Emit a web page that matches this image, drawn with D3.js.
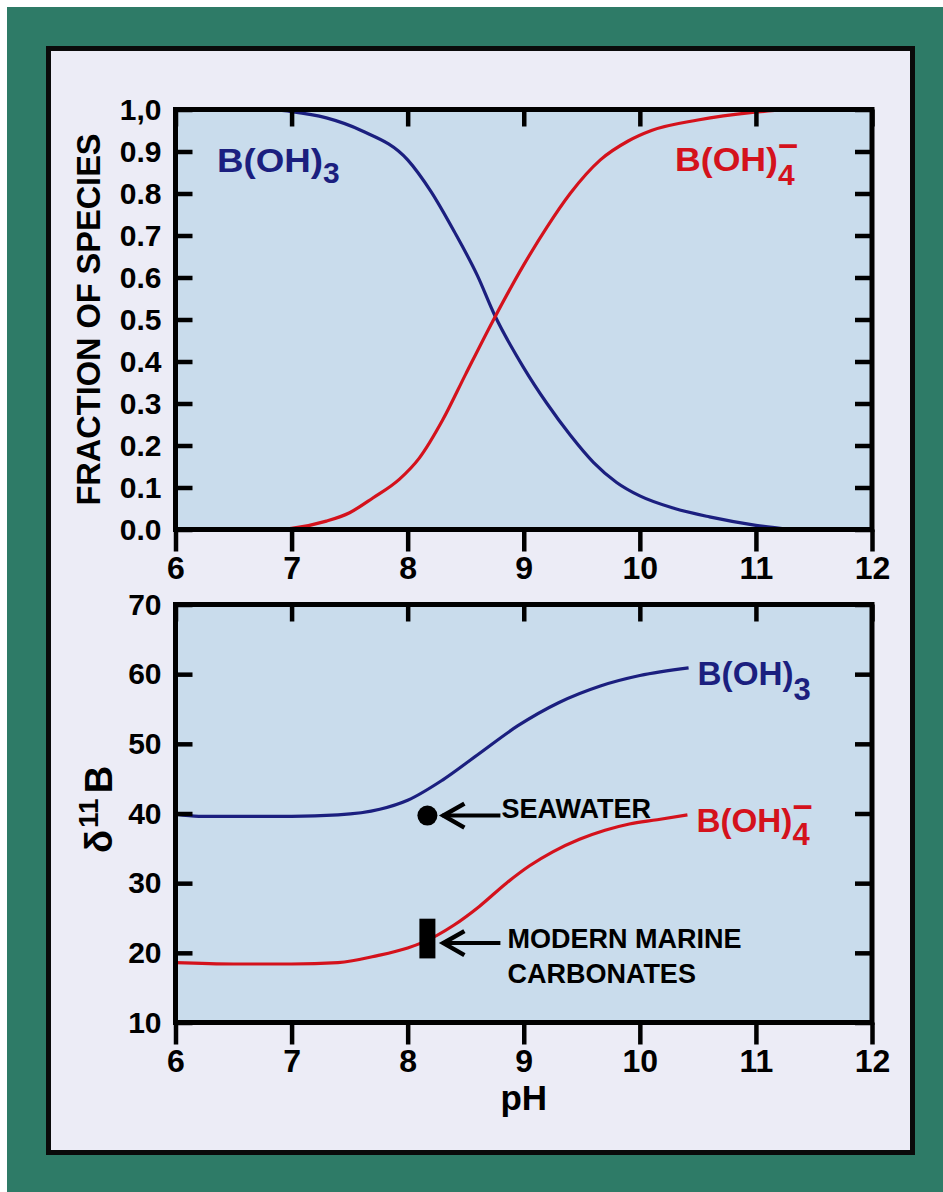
<!DOCTYPE html>
<html>
<head>
<meta charset="utf-8">
<script src="https://cdn.jsdelivr.net/npm/d3@7"></script>
<style>
  body { margin: 0; background: #2e7b67; }
  svg { display: block; }
  text { font-family: "Liberation Sans", Arial, sans-serif; font-weight: bold; }
</style>
</head>
<body>
<svg id="chart" width="943" height="1192"></svg>
<script>
// ---- data ----
const phTicks = [6, 7, 8, 9, 10, 11, 12];
const phLabels = ["6", "7", "8", "9", "10", "11", "12"];
const fracTicks = [0, 0.1, 0.2, 0.3, 0.4, 0.5, 0.6, 0.7, 0.8, 0.9, 1.0];
const fracLabels = ["0.0", "0.1", "0.2", "0.3", "0.4", "0.5", "0.6", "0.7", "0.8", "0.9", "1,0"];
const deltaTicks = [10, 20, 30, 40, 50, 60, 70];
const deltaLabels = ["10", "20", "30", "40", "50", "60", "70"];

// fraction of species, B(OH)3
const fracAcidPh  = [6.8, 7.0, 7.3, 7.6, 8.0, 8.2, 8.4, 8.6, 8.75, 9.0, 9.2, 9.4, 9.6, 9.8, 10.0, 10.3, 10.6, 11.0, 11.3];
const fracAcidVal = [1.0, 0.995, 0.98, 0.95, 0.88, 0.805, 0.71, 0.605, 0.51, 0.385, 0.3, 0.225, 0.16, 0.112, 0.08, 0.05, 0.03, 0.01, 0.0];
// fraction of species, B(OH)4-
const fracBasePh  = [6.8, 7.0, 7.3, 7.5, 7.7, 7.93, 8.1, 8.3, 8.5, 8.75, 9.0, 9.2, 9.4, 9.66, 9.9, 10.1, 10.5, 10.97, 11.3];
const fracBaseVal = [0.0, 0.003, 0.02, 0.04, 0.075, 0.12, 0.17, 0.26, 0.37, 0.505, 0.63, 0.72, 0.8, 0.88, 0.925, 0.95, 0.975, 0.993, 1.0];

// d11B, B(OH)3
const dAcidPh  = [6.0, 6.2, 7.0, 7.4, 7.76, 8.0, 8.3, 8.6, 8.95, 9.3, 9.66, 10.0, 10.42];
const dAcidVal = [39.9, 39.6, 39.6, 39.8, 40.6, 41.9, 44.8, 48.4, 52.6, 55.9, 58.3, 59.8, 60.9];
// d11B, B(OH)4-
const dBasePh  = [6.0, 6.5, 7.0, 7.4, 7.74, 8.0, 8.13, 8.4, 8.62, 8.85, 9.05, 9.25, 9.48, 9.7, 9.91, 10.15, 10.41];
const dBaseVal = [18.6, 18.4, 18.4, 18.6, 19.6, 20.7, 21.5, 24.0, 26.7, 30.0, 32.5, 34.5, 36.3, 37.6, 38.5, 39.1, 39.8];

// markers
const seawater = [8.17, 39.7];
const carbonates = [8.17, 19.2, 24.9];
const carbArrowY = 21.4;

const navy = "#1b1f7f";
const red = "#d4121c";

const svg = d3.select("#chart");
const W = 943, H = 1192;

// background + frame
svg.append("rect").attr("width", W).attr("height", H).attr("fill", "#2e7b67");
svg.append("rect").attr("width", W).attr("height", 7).attr("fill", "#ffffff");
svg.append("rect").attr("width", 7).attr("height", H).attr("fill", "#ffffff");
svg.append("rect")
    .attr("x", 48.5).attr("y", 48.5)
    .attr("width", 864).attr("height", 1104)
    .attr("fill", "#ececf6")
    .attr("stroke", "#0a0a0a")
    .attr("stroke-width", 5);

const x = d3.scaleLinear().domain([6, 12]).range([175.5, 872]);
const yFrac = d3.scaleLinear().domain([0, 1]).range([529.5, 109.5]);
const yDelta = d3.scaleLinear().domain([10, 70]).range([1022.5, 604.5]);

function drawPanel(y, yTicks, yLabels, series) {
    const g = svg.append("g");
    const [yb, yt] = y.range();
    g.append("rect")
        .attr("x", x(6)).attr("y", yt)
        .attr("width", x(12) - x(6)).attr("height", yb - yt)
        .attr("fill", "#c9dcec");

    const line = d3.line().curve(d3.curveMonotoneX)
        .x(d => x(d[0])).y(d => y(d[1]));
    series.forEach(s => {
        g.append("path")
            .datum(s.ph.map((p, i) => [p, s.val[i]]))
            .attr("d", line)
            .attr("fill", "none")
            .attr("stroke", s.color)
            .attr("stroke-width", 3.2);
    });

    const left = g.append("g").attr("transform", `translate(${x(6)},0)`)
        .call(d3.axisLeft(y).tickValues(yTicks).tickSize(-17).tickSizeOuter(0)
            .tickPadding(14).tickFormat((d, i) => yLabels[i]));
    const right = g.append("g").attr("transform", `translate(${x(12)},0)`)
        .call(d3.axisRight(y).tickValues(yTicks).tickSize(-17).tickSizeOuter(0).tickFormat(""));
    const top = g.append("g").attr("transform", `translate(0,${yt})`)
        .call(d3.axisTop(x).tickValues(phTicks).tickSize(-17).tickSizeOuter(0).tickFormat(""));
    const bottom = g.append("g").attr("transform", `translate(0,${yb})`)
        .call(d3.axisBottom(x).tickValues(phTicks).tickSize(22).tickSizeOuter(0)
            .tickPadding(5).tickFormat((d, i) => phLabels[i]));

    [left, right, top, bottom].forEach(a => {
        a.select(".domain").remove();
        a.selectAll(".tick line").attr("stroke", "#000").attr("stroke-width", 4.5);
        a.selectAll("text").attr("fill", "#000").attr("font-family", null);
    });
    left.selectAll("text").attr("font-size", 30);
    bottom.selectAll("text").attr("font-size", 32);

    g.append("rect")
        .attr("x", x(6)).attr("y", yt)
        .attr("width", x(12) - x(6)).attr("height", yb - yt)
        .attr("fill", "none")
        .attr("stroke", "#000")
        .attr("stroke-width", 5);
    return g;
}

drawPanel(yFrac, fracTicks, fracLabels, [
    { ph: fracAcidPh, val: fracAcidVal, color: navy },
    { ph: fracBasePh, val: fracBaseVal, color: red }
]);
drawPanel(yDelta, deltaTicks, deltaLabels, [
    { ph: dAcidPh, val: dAcidVal, color: navy },
    { ph: dBasePh, val: dBaseVal, color: red }
]);

// species labels: B(OH)3 and B(OH)4 with a small minus stacked over the 4
function species(px, py, size, len, color, sub, subDy, minus) {
    const t = svg.append("text").attr("x", px).attr("y", py)
        .attr("fill", color).attr("font-size", size);
    t.append("tspan")
        .attr("textLength", len).attr("lengthAdjust", "spacingAndGlyphs")
        .text("B(OH)");
    t.append("tspan").attr("x", px + len).attr("dy", subDy)
        .attr("font-size", size - 3)
        .text(sub);
    if (minus) {
        t.append("tspan").attr("x", px + len + 1).attr("dy", -subDy - 18)
            .attr("font-size", 20)
            .attr("textLength", 18).attr("lengthAdjust", "spacingAndGlyphs")
            .attr("stroke", color).attr("stroke-width", 1.4)
            .text("\u2212");
    }
}
species(217, 172, 33, 106, navy, "3", 11, false);
species(675, 171, 33, 103, red, "4", 14, true);
species(x(10.42) + 9, 685, 34, 96, navy, "3", 15, false);
species(x(10.41) + 9, 832, 34, 96, red, "4", 13, true);

// axis titles
svg.append("text")
    .attr("transform", `translate(100,${(yFrac(0) + yFrac(1)) / 2}) rotate(-90)`)
    .attr("text-anchor", "middle")
    .attr("font-size", 32.5)
    .text("FRACTION OF SPECIES");

const dLab = svg.append("text")
    .attr("transform", "translate(112,853) rotate(-90)")
    .attr("font-size", 38);
dLab.append("tspan").text("\u03b4");
dLab.append("tspan").attr("font-size", 28).attr("dy", -14).attr("dx", 2).text("11");
dLab.append("tspan").attr("dy", 14).attr("dx", 5).text("B");

svg.append("text")
    .attr("x", x(9)).attr("y", 1110)
    .attr("text-anchor", "middle")
    .attr("font-size", 35)
    .text("pH");

// arrow pointing left from x0 to x1
function arrow(x0, x1, yy) {
    svg.append("line")
        .attr("x1", x0).attr("x2", x1).attr("y1", yy).attr("y2", yy)
        .attr("stroke", "#000").attr("stroke-width", 4);
    svg.append("path")
        .attr("d", `M${x1 + 22},${yy - 12}L${x1 + 1},${yy}L${x1 + 22},${yy + 12}`)
        .attr("fill", "none").attr("stroke", "#000").attr("stroke-width", 4.5);
}

// seawater marker
const sx = x(seawater[0]);
svg.append("circle")
    .attr("cx", sx).attr("cy", yDelta(seawater[1]))
    .attr("r", 10).attr("fill", "#000");
arrow(sx + 73, sx + 15, yDelta(seawater[1]));
svg.append("text")
    .attr("x", sx + 74).attr("y", yDelta(seawater[1]) + 2)
    .attr("font-size", 27).attr("fill", "#000")
    .text("SEAWATER");

// modern marine carbonates range
const cx = x(carbonates[0]);
svg.append("rect")
    .attr("x", cx - 8).attr("y", yDelta(carbonates[2]))
    .attr("width", 16).attr("height", yDelta(carbonates[1]) - yDelta(carbonates[2]))
    .attr("fill", "#000");
arrow(cx + 73, cx + 15, yDelta(carbArrowY));
const carbText = svg.append("text")
    .attr("x", cx + 80).attr("y", yDelta(carbArrowY) + 5)
    .attr("font-size", 27).attr("fill", "#000");
carbText.append("tspan").text("MODERN MARINE");
carbText.append("tspan").attr("x", cx + 80).attr("dy", 35).text("CARBONATES");
</script>
</body>
</html>
